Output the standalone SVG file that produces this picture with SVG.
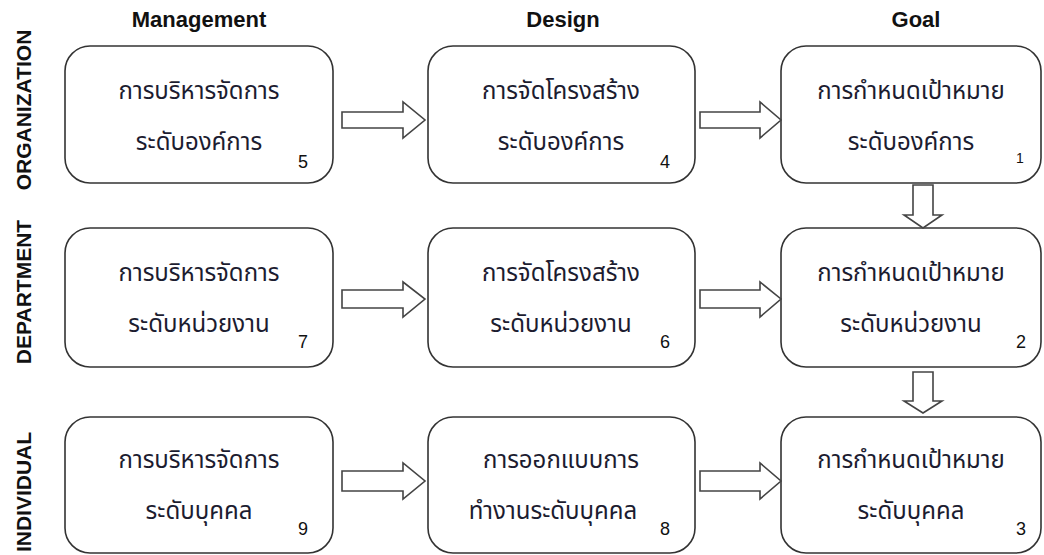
<svg xmlns="http://www.w3.org/2000/svg" width="1044" height="555" viewBox="0 0 1044 555">
<style>
.box{fill:#fff;stroke:#333;stroke-width:1.6}
.arr{fill:#fff;stroke:#444;stroke-width:1.6;stroke-linejoin:miter}
.th{font-family:"Tahoma","Noto Sans Thai","Loma","Garuda","DejaVu Sans",sans-serif;font-size:24px;fill:#1c1c30;text-anchor:middle}
.num{font-family:"Liberation Sans","Arial",sans-serif;font-size:18px;fill:#111}
.hd{font-family:"Liberation Sans","Arial",sans-serif;font-weight:bold;font-size:22px;fill:#111;text-anchor:middle}
.side{font-family:"Liberation Sans","Arial",sans-serif;font-weight:bold;font-size:21px;fill:#111;text-anchor:middle}
</style>
<rect width="1044" height="555" fill="#fff"/>
<g id="headings">
<text class="hd" x="199" y="27">Management</text>
<text class="hd" x="563" y="27">Design</text>
<text class="hd" x="916" y="27">Goal</text>
</g>
<g id="side-labels">
<text class="side" transform="translate(31,110) rotate(-90)">ORGANIZATION</text>
<text class="side" transform="translate(31,292) rotate(-90)">DEPARTMENT</text>
<text class="side" transform="translate(31,492) rotate(-90)">INDIVIDUAL</text>
</g>
<g id="n5"><rect class="box" x="65" y="46" width="268" height="137" rx="25"/>
<text class="th" x="199" y="99">การบริหารจัดการ</text><text class="th" x="199" y="150">ระดับองค์การ</text><text class="num" x="298" y="168">5</text></g>
<g id="n4"><rect class="box" x="428" y="46" width="267" height="137" rx="25"/>
<text class="th" x="561" y="99">การจัดโครงสร้าง</text><text class="th" x="561" y="150">ระดับองค์การ</text><text class="num" x="660" y="168">4</text></g>
<g id="n1"><rect class="box" x="781" y="46" width="260" height="137" rx="25"/>
<text class="th" x="911" y="99">การกำหนดเป้าหมาย</text><text class="th" x="911" y="150">ระดับองค์การ</text><text class="num" x="1016" y="163" style="font-size:14px">1</text></g>
<g id="n7"><rect class="box" x="65" y="228" width="268" height="139" rx="25"/>
<text class="th" x="199" y="281">การบริหารจัดการ</text><text class="th" x="199" y="332">ระดับหน่วยงาน</text><text class="num" x="298" y="348">7</text></g>
<g id="n6"><rect class="box" x="428" y="228" width="267" height="139" rx="25"/>
<text class="th" x="561" y="281">การจัดโครงสร้าง</text><text class="th" x="561" y="332">ระดับหน่วยงาน</text><text class="num" x="660" y="348">6</text></g>
<g id="n2"><rect class="box" x="781" y="228" width="260" height="139" rx="25"/>
<text class="th" x="911" y="281">การกำหนดเป้าหมาย</text><text class="th" x="911" y="332">ระดับหน่วยงาน</text><text class="num" x="1016" y="348">2</text></g>
<g id="n9"><rect class="box" x="65" y="417" width="268" height="136" rx="25"/>
<text class="th" x="199" y="468">การบริหารจัดการ</text><text class="th" x="199" y="519">ระดับบุคคล</text><text class="num" x="298" y="535">9</text></g>
<g id="n8"><rect class="box" x="428" y="417" width="267" height="136" rx="25"/>
<text class="th" x="561" y="468">การออกแบบการ</text><text class="th" x="553" y="519">ทำงานระดับบุคคล</text><text class="num" x="660" y="535">8</text></g>
<g id="n3"><rect class="box" x="781" y="417" width="260" height="136" rx="25"/>
<text class="th" x="911" y="468">การกำหนดเป้าหมาย</text><text class="th" x="911" y="519">ระดับบุคคล</text><text class="num" x="1016" y="535">3</text></g>
<g id="connectors">
<path class="arr" d="M342,112 H403 V102 L425,120 L403,138 V128 H342 Z"/>
<path class="arr" d="M700,112 H760 V102 L781,120 L760,138 V128 H700 Z"/>
<path class="arr" d="M342,290 H403 V282 L425,299 L403,317 V308 H342 Z"/>
<path class="arr" d="M700,290 H760 V282 L781,299 L760,317 V308 H700 Z"/>
<path class="arr" d="M342,471 H403 V463 L425,481 L403,499 V491 H342 Z"/>
<path class="arr" d="M700,471 H760 V463 L781,481 L760,499 V491 H700 Z"/>
<path class="arr" d="M913,185 V215 H904 L923,228 L942,215 H933 V185 Z"/>
<path class="arr" d="M913,372 V401 H904 L923,413 L942,401 H933 V372 Z"/>
</g>
</svg>
